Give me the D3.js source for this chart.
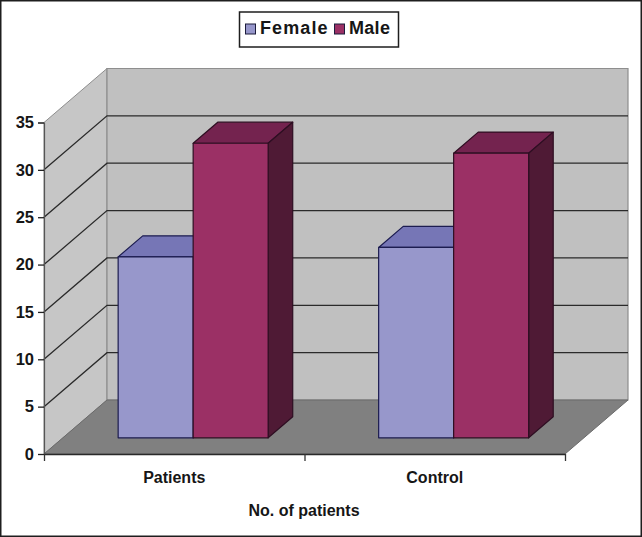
<!DOCTYPE html>
<html><head><meta charset="utf-8">
<script src="https://cdn.jsdelivr.net/npm/d3@7/dist/d3.min.js"></script>
<style>
html,body{margin:0;padding:0;background:#fff}
svg{display:block}
text{font-family:"Liberation Sans",Arial,sans-serif;font-weight:700;fill:#161616}
</style></head><body>
<svg id="c" width="642" height="537"></svg>
<script>
const categories = ["Patients", "Control"];
const seriesNames = ["Female", "Male"];
const female = [19.1, 20.1];
const male = [31.1, 30.05];
const yTicks = [0, 5, 10, 15, 20, 25, 30, 35];
const xTitle = "No. of patients";
const frontFill = ["#9797cb", "#9b3065"];
const topFill = ["#7676b6", "#74234f"];
const sideFill = ["#5a5aa0", "#4f1a35"];
const edgeColor = ["#1c1c50", "#2e0e22"];

const svg = d3.select("#c");
const W = 642, H = 537;
const x0 = 44, x1 = 565, yBase = 454, yTop = 122.5, dx = 63, dy = 54;
const zFront = 0.3, zBack = 0.69;

const y = d3.scaleLinear().domain([0, 35]).range([yBase, yTop]);
const xBand = d3.scaleBand().domain(categories).range([x0, x1]);
const xSeries = d3.scaleBand().domain(seriesNames).range([0, 150]);
const P = (px, v, z) => [px + z * dx, y(v) - z * dy];
const poly = pts => pts.map(p => p.join(",")).join(" ");

svg.append("rect").attr("x", 0.75).attr("y", 0.75).attr("width", W - 1.5).attr("height", H - 1.5)
  .attr("fill", "#fff").attr("stroke", "#1e1e1e").attr("stroke-width", 1.5);

// walls
svg.append("polygon").attr("points", poly([P(x0,0,0),P(x0,35,0),P(x0,35,1),P(x0,0,1)]))
  .attr("fill", "#c6c6c6").attr("stroke", "#8e8e8e").attr("stroke-width", 1);
svg.append("polygon").attr("points", poly([P(x0,0,1),P(x0,35,1),P(x1,35,1),P(x1,0,1)]))
  .attr("fill", "#c0c0c0").attr("stroke", "#8e8e8e").attr("stroke-width", 1.2);
svg.append("polygon").attr("points", poly([P(x0,0,0),P(x1,0,0),P(x1,0,1),P(x0,0,1)]))
  .attr("fill", "#808080").attr("stroke", "#6a6a6a").attr("stroke-width", 1);

// gridlines on walls
const grid = yTicks.filter(v => v > 0 && v < 35);
grid.forEach(v => {
  const a = P(x0, v, 0), b = P(x0, v, 1), c = P(x1, v, 1);
  svg.append("polyline").attr("points", poly([a, b, c])).attr("fill", "none")
    .attr("stroke", "#2a2a2a").attr("stroke-width", 1.3);
});

// 3D bars
categories.forEach((cat, i) => {
  const centre = xBand(cat) + xBand.bandwidth() / 2 + zFront * dx - 75;
  [female[i], male[i]].forEach((val, s) => {
    const name = seriesNames[s];
    const l = centre + xSeries(name), r = l + xSeries.bandwidth();
    const c0 = (px, v) => [px, y(v) - zFront * dy];
    const off = (zBack - zFront);
    const c1 = (px, v) => [px + off * dx, y(v) - zBack * dy];
    const g = svg.append("g").attr("stroke", edgeColor[s]).attr("stroke-width", 1.2).attr("stroke-linejoin", "round");
    g.append("polygon").attr("points", poly([c0(l,val),c0(r,val),c1(r,val),c1(l,val)])).attr("fill", topFill[s]);
    g.append("polygon").attr("points", poly([c0(r,0),c0(r,val),c1(r,val),c1(r,0)])).attr("fill", sideFill[s]);
    g.append("polygon").attr("points", poly([c0(l,0),c0(l,val),c0(r,val),c0(r,0)])).attr("fill", frontFill[s]);
  });
});

// axes
const yAxis = d3.axisLeft(y).tickValues(yTicks).tickSize(6).tickPadding(4);
const gy = svg.append("g").attr("transform", `translate(${x0},0)`).call(yAxis);
gy.selectAll("text").style("font-size", "16.5px");
gy.selectAll("line").attr("stroke", "#222").attr("stroke-width", 1.3);
gy.select(".domain").attr("stroke", "#555").attr("stroke-width", 1.2);

const xEdges = d3.scaleLinear().domain([0, categories.length]).range([x0, x1]);
const xAxis = d3.axisBottom(xEdges).tickValues(d3.range(categories.length + 1)).tickFormat("").tickSize(7).tickSizeOuter(0);
const gx = svg.append("g").attr("transform", `translate(0,${yBase})`).call(xAxis);
gx.selectAll("line").attr("stroke", "#333").attr("stroke-width", 1.3);
gx.select(".domain").attr("stroke", "#2a2a2a").attr("stroke-width", 1.5);

categories.forEach(cat => {
  svg.append("text").attr("x", xBand(cat) + xBand.bandwidth() / 2).attr("y", 483)
    .attr("text-anchor", "middle").style("font-size", "16px").text(cat);
});
svg.append("text").attr("x", 304).attr("y", 516).attr("text-anchor", "middle").style("font-size", "16px").text(xTitle);

// legend
const lg = svg.append("g");
lg.append("rect").attr("x", 239.5).attr("y", 12).attr("width", 159).attr("height", 35)
  .attr("fill", "#fff").attr("stroke", "#1e1e1e").attr("stroke-width", 1.5);
const swX = [245.5, 334.5], txtX = [260, 349];
seriesNames.forEach((n, i) => {
  lg.append("rect").attr("x", swX[i]).attr("y", 24).attr("width", 10).attr("height", 10)
    .attr("fill", frontFill[i]).attr("stroke", "#1c1c3c").attr("stroke-width", 1);
  lg.append("text").attr("x", txtX[i]).attr("y", 34).style("font-size", "18px")
    .style("letter-spacing", i === 0 ? "1.1px" : "0.3px").text(n);
});
</script>
</body></html>
